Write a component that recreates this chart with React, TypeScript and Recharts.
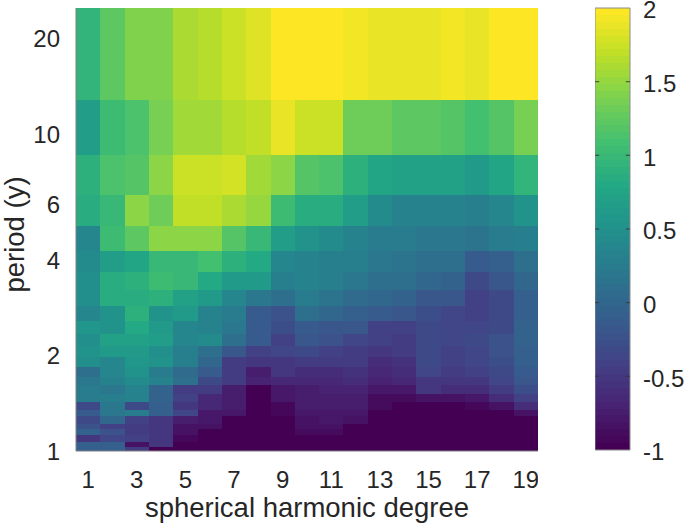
import { ReferenceArea, ScatterChart, XAxis, YAxis } from 'recharts';

// spherical harmonic degree, one column per degree
const degrees = [1, 2, 3, 4, 5, 6, 7, 8, 9, 10, 11, 12, 13, 14, 15, 16, 17, 18, 19];
const degreeTicks = [1, 3, 5, 7, 9, 11, 13, 15, 17, 19];
const periodTicks = [1, 2, 4, 6, 10, 20];
const colorbarTicks = [-1, -0.5, 0, 0.5, 1, 1.5, 2];

// row boundaries in years, longest period first (one more than there are rows)
const periodEdges = [
  25, 12.85, 8.57, 6.43, 5.14, 4.28, 3.67, 3.21, 2.86, 2.57, 2.34, 2.14, 1.98,
  1.84, 1.71, 1.61, 1.51, 1.43, 1.35, 1.29, 1.22, 1.17, 1.12, 1.07, 1.03, 1,
];

const row1 = [0.95, 1.22, 1.42, 1.42, 1.58, 1.66, 1.75, 1.83, 2, 2, 2, 1.93, 1.88, 1.88, 1.88, 1.93, 1.88, 2, 2];
const row2 = [0.68, 1.05, 1.12, 1.35, 1.55, 1.55, 1.66, 1.7, 1.86, 1.72, 1.72, 1.33, 1.31, 1.24, 1.24, 1.17, 1.1, 1.19, 1.37];
const row3 = [0.9, 1.12, 1.2, 1.45, 1.76, 1.73, 1.8, 1.55, 1.47, 1.2, 1.13, 0.92, 0.76, 0.72, 0.72, 0.7, 0.62, 0.76, 0.95];
const row4 = [0.87, 0.98, 1.48, 1.34, 1.68, 1.68, 1.62, 1.5, 1.05, 0.83, 0.85, 0.66, 0.43, 0.33, 0.33, 0.33, 0.27, 0.4, 0.52];
const row5 = [0.38, 1.02, 1.22, 1.48, 1.48, 1.45, 1.2, 0.98, 0.65, 0.52, 0.42, 0.35, 0.24, 0.24, 0.2, 0.2, 0.16, 0.23, 0.28];
const row6 = [0.45, 0.68, 0.78, 1.0, 0.97, 1.1, 0.9, 0.8, 0.4, 0.33, 0.28, 0.27, 0.18, 0.17, 0.08, 0.08, -0.15, -0.07, 0.1];
const row7 = [0.48, 0.85, 0.9, 1.05, 1.0, 0.8, 0.63, 0.6, 0.27, 0.33, 0.28, 0.18, 0.1, 0.1, 0, -0.02, -0.3, -0.2, 0.03];
const row8 = [0.47, 0.85, 0.87, 0.9, 0.72, 0.63, 0.4, 0.2, 0.12, 0.23, 0.17, 0.07, 0.02, -0.04, -0.18, -0.18, -0.42, -0.33, -0.07];
const row9 = [0.37, 0.53, 0.88, 0.53, 0.6, 0.33, 0.23, -0.12, -0.25, 0.12, 0.02, -0.08, -0.13, -0.2, -0.27, -0.37, -0.42, -0.33, -0.08];
const row10 = [0.58, 0.5, 0.8, 0.6, 0.4, 0.35, 0.2, -0.15, -0.27, -0.12, -0.17, -0.2, -0.42, -0.42, -0.3, -0.38, -0.38, -0.3, -0.03];
const row11 = [0.48, 0.72, 0.72, 0.68, 0.4, 0.42, 0.1, -0.13, -0.42, -0.2, -0.24, -0.38, -0.42, -0.47, -0.3, -0.37, -0.33, -0.23, -0.04];
const row12 = [0.5, 0.63, 0.62, 0.47, 0.28, 0.12, -0.2, -0.43, -0.38, -0.3, -0.42, -0.48, -0.52, -0.47, -0.33, -0.42, -0.37, -0.23, -0.07];
const row13 = [0.47, 0.4, 0.58, 0.5, 0.27, 0.03, -0.45, -0.52, -0.52, -0.47, -0.45, -0.48, -0.58, -0.55, -0.33, -0.42, -0.37, -0.27, -0.1];
const row14 = [0.1, 0.4, 0.52, 0.25, 0.05, -0.12, -0.47, -0.72, -0.52, -0.6, -0.6, -0.57, -0.63, -0.58, -0.35, -0.47, -0.4, -0.3, -0.15];
const row15 = [0.2, 0.33, 0.45, 0.33, 0.12, -0.3, -0.48, -0.7, -0.65, -0.65, -0.65, -0.62, -0.68, -0.63, -0.5, -0.52, -0.5, -0.37, -0.2];
const row16 = [0.22, 0.2, 0.33, -0.03, -0.48, -0.45, -0.75, -1, -0.77, -0.72, -0.7, -0.7, -0.8, -0.8, -0.53, -0.62, -0.6, -0.45, -0.28];
const row17 = [0.25, 0.28, 0.32, -0.03, -0.4, -0.65, -0.75, -1, -0.8, -0.75, -0.75, -0.75, -0.87, -0.87, -0.85, -0.82, -0.78, -0.6, -0.42];
const row18 = [-0.3, 0.2, -0.3, -0.1, -0.52, -0.65, -0.75, -1, -0.95, -0.75, -0.75, -0.75, -0.9, -1, -1, -1, -0.95, -0.85, -0.6];
const row19 = [-0.13, 0.2, 0.25, -0.1, -0.35, -0.77, -0.8, -1, -0.95, -0.8, -0.8, -0.8, -1, -1, -1, -1, -1, -1, -0.85];
const row20 = [-0.3, 0, -0.42, -0.5, -0.75, -0.8, -1, -1, -1, -0.85, -0.8, -0.85, -1, -1, -1, -1, -1, -1, -1];
const row21 = [-0.25, -0.4, -0.47, -0.52, -0.82, -0.82, -1, -1, -1, -0.85, -0.85, -1, -1, -1, -1, -1, -1, -1, -1];
const row22 = [-0.02, -0.22, -0.45, -0.52, -0.85, -1, -1, -1, -1, -0.9, -0.88, -1, -1, -1, -1, -1, -1, -1, -1];
const row23 = [-0.5, -0.37, -0.4, -0.52, -0.95, -1, -1, -1, -1, -1, -1, -1, -1, -1, -1, -1, -1, -1, -1];
const row24 = [-0.08, -0.08, -0.85, -0.52, -1, -1, -1, -1, -1, -1, -1, -1, -1, -1, -1, -1, -1, -1, -1];
const row25 = [-0.08, -0.08, -0.45, -1, -1, -1, -1, -1, -1, -1, -1, -1, -1, -1, -1, -1, -1, -1, -1];

const rows = [
  row1, row2, row3, row4, row5, row6, row7, row8, row9, row10, row11, row12, row13,
  row14, row15, row16, row17, row18, row19, row20, row21, row22, row23, row24, row25,
];

const viridis = [
  [68, 1, 84], [72, 36, 117], [65, 68, 135], [53, 95, 141], [42, 120, 142], [33, 145, 140],
  [34, 168, 132], [68, 191, 112], [122, 209, 81], [189, 223, 38], [253, 231, 37],
];

const LEVELS = 64;
const C_MIN = -1;
const C_MAX = 2;

function levelColor(level: number) {
  const t = (level / (LEVELS - 1)) * (viridis.length - 1);
  const i = Math.min(Math.floor(t), viridis.length - 2);
  const f = t - i;
  const [r, g, b] = viridis[i].map((c, k) => Math.round(c + (viridis[i + 1][k] - c) * f));
  return `rgb(${r},${g},${b})`;
}

function valueColor(v: number) {
  const level = Math.floor(((v - C_MIN) / (C_MAX - C_MIN)) * LEVELS);
  return levelColor(Math.max(0, Math.min(LEVELS - 1, level)));
}

const colorbarLevels = Array.from({ length: LEVELS }, (_, i) => i);

const FONT = '"Liberation Sans", Arial, sans-serif';
const TEXT = '#262626';

function ColorbarTick({ x, y, payload }: any) {
  return (
    <text x={x + 13} y={y} dy="0.43em" textAnchor="start" fontSize={24} fontFamily={FONT} fill={TEXT}>
      {payload.value}
    </text>
  );
}

export default function App() {
  return (
    <div style={{ position: 'absolute', left: 0, top: 0, width: 685, height: 524, background: '#fff' }}>
      <div style={{ position: 'absolute', left: 0, top: 0 }}>
        <ScatterChart width={538} height={524} margin={{ top: 8, right: 0, bottom: 0, left: 0 }}>
          <XAxis
            type="number"
            dataKey="degree"
            domain={[0.5, 19.5]}
            ticks={degreeTicks}
            interval={0}
            allowDataOverflow
            height={73}
            stroke="#808080"
            tickLine={false}
            tickMargin={14}
            tick={{ fontSize: 24, fontFamily: FONT, fill: TEXT }}
            label={{ value: 'spherical harmonic degree', position: 'insideBottom', offset: 7, fontSize: 27.5, fontFamily: FONT, fill: TEXT }}
          />
          <YAxis
            type="number"
            dataKey="period"
            scale="log"
            domain={[1, 25]}
            ticks={periodTicks}
            interval={0}
            allowDataOverflow
            width={76}
            stroke="#808080"
            tickLine={false}
            tickMargin={10}
            tick={{ fontSize: 24, fontFamily: FONT, fill: TEXT }}
            label={{ value: 'period (y)', angle: -90, position: 'center', dx: -24, dy: 5, fontSize: 27.5, fontFamily: FONT, fill: TEXT }}
          />
          {rows.map((row, r) =>
            degrees.map((degree, c) => (
              <ReferenceArea
                key={`${r}-${c}`}
                x1={degree - 0.5}
                x2={degree + 0.5}
                y1={periodEdges[r + 1]}
                y2={periodEdges[r]}
                fill={valueColor(row[c])}
                fillOpacity={1}
                stroke="none"
                shapeRendering="crispEdges"
              />
            )),
          )}
        </ScatterChart>
      </div>
      <div style={{ position: 'absolute', left: 595, top: 0 }}>
        <ScatterChart width={90} height={524} margin={{ top: 8, right: 0, bottom: 74, left: 0 }}>
          <XAxis type="number" dataKey="x" domain={[0, 1]} allowDataOverflow hide />
          <YAxis
            type="number"
            dataKey="value"
            orientation="right"
            domain={[C_MIN, C_MAX]}
            ticks={colorbarTicks}
            interval={0}
            allowDataOverflow
            width={55}
            stroke="none"
            tickLine={false}
            tickSize={0}
            tickMargin={0}
            tick={<ColorbarTick />}
          />
          {colorbarLevels.map((level) => (
            <ReferenceArea
              key={level}
              x1={0}
              x2={1}
              y1={C_MIN + (level / LEVELS) * (C_MAX - C_MIN)}
              y2={C_MIN + ((level + 1) / LEVELS) * (C_MAX - C_MIN)}
              fill={levelColor(level)}
              fillOpacity={1}
              stroke="none"
              shapeRendering="crispEdges"
            />
          ))}
          <ReferenceArea x1={0} x2={1} y1={C_MIN} y2={C_MAX} fill="none" stroke="#8c8c8c" strokeWidth={1} />
          {/* inward tick marks on both sides of the bar */}
          {colorbarTicks.slice(1, -1).map((v) => (
            <ReferenceArea key={`l${v}`} x1={0} x2={0.12} y1={v - 0.004} y2={v + 0.004} fill="#3a3a3a" fillOpacity={0.8} stroke="none" />
          ))}
          {colorbarTicks.slice(1, -1).map((v) => (
            <ReferenceArea key={`r${v}`} x1={0.88} x2={1} y1={v - 0.004} y2={v + 0.004} fill="#3a3a3a" fillOpacity={0.8} stroke="none" />
          ))}
        </ScatterChart>
      </div>
    </div>
  );
}
